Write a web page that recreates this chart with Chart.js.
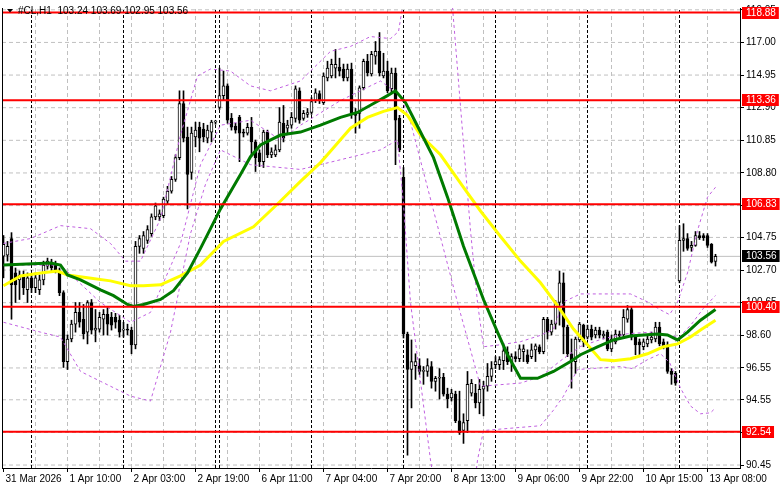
<!DOCTYPE html>
<html><head><meta charset="utf-8">
<script src="https://cdn.jsdelivr.net/npm/chart.js@4.4.1/dist/chart.umd.min.js"></script>
<style>html,body{margin:0;padding:0;background:#fff;overflow:hidden}#wrap{width:781px;height:489px;position:relative}</style>
</head><body><div id="wrap"><canvas id="c" width="781" height="489"></canvas></div>
<script>
// ---------- DATA ----------
const symbolTitle = '#CL,H1';
const lastQuote = [103.24, 103.69, 102.95, 103.56];   // O H L C of last bar
const currentPrice = 103.56;
const levels = [118.88, 113.36, 106.83, 100.40, 92.54];
const yTicks = [119.05, 117.00, 114.95, 112.90, 110.85, 108.80, 106.75, 104.75, 102.70, 100.65, 98.60, 96.55, 94.55, 92.50, 90.45];
const xGridBars = [8, 16, 24, 32, 40, 48, 56, 64, 72, 80, 88, 96, 104, 112, 120, 128, 136, 144, 152, 160, 168, 176];
const xLabelBars = [0, 16, 32, 48, 64, 80, 96, 112, 128, 144, 160, 176];
const xLabels = ['31 Mar 2026', '1 Apr 10:00', '2 Apr 03:00', '2 Apr 19:00', '6 Apr 11:00', '7 Apr 04:00', '7 Apr 20:00', '8 Apr 13:00', '9 Apr 06:00', '9 Apr 22:00', '10 Apr 15:00', '13 Apr 08:00'];
const daySeparatorBars = [7, 30, 53, 54, 77, 100, 123, 146, 169];

const opens = [103.57,103.63,104.68,102.52,102.08,102.39,101.46,102.21,101.59,101.46,102.08,102.95,103.20,103.01,102.64,101.28,96.95,98.37,99.30,100.04,
99.61,98.80,100.66,98.93,98.99,99.61,99.92,99.73,99.73,99.55,98.93,98.99,98.93,98.00,104.19,104.06,104.56,104.99,106.04,106.04,
106.11,107.03,107.65,108.40,109.76,113.16,111.06,108.83,111.06,111.68,111.55,110.99,111.37,111.99,112.91,113.66,114.27,112.23,111.74,112.29,
111.37,111.30,111.67,110.75,110.07,109.51,111.37,109.94,109.94,110.25,111.92,111.61,111.80,112.23,113.96,112.23,112.48,112.60,113.35,113.78,
113.22,114.77,114.89,115.39,115.45,115.33,114.77,115.33,112.60,112.54,114.15,115.82,115.02,116.13,116.44,114.89,115.20,114.09,115.08,112.23,
108.52,98.68,96.45,96.70,96.70,96.33,96.33,96.64,95.71,95.90,95.96,94.91,94.66,94.91,93.23,92.62,93.23,94.97,94.97,94.35,
95.21,95.40,96.02,96.76,96.76,97.01,97.57,96.95,97.26,97.13,97.57,97.38,97.26,97.69,97.88,97.57,99.61,98.80,99.30,100.66,
101.90,99.11,97.44,96.95,98.31,99.24,98.49,98.99,98.62,98.93,98.56,98.80,97.75,98.19,98.68,98.62,99.61,100.22,98.49,98.19,
97.88,98.06,98.31,98.37,99.11,98.19,98.00,96.33,96.21,102.02,104.56,104.68,104.12,104.25,104.87,104.87,104.87,104.31,103.24];
const highs = [104.87,104.50,105.05,102.83,102.64,102.64,102.52,102.46,102.52,102.39,103.26,103.45,103.38,103.26,102.83,101.40,98.62,99.55,100.66,100.66,
100.54,100.78,100.85,100.22,100.04,100.22,100.35,100.04,99.98,99.86,99.42,99.30,99.11,104.50,104.87,105.12,105.49,106.23,106.91,106.48,
107.28,107.96,108.58,109.94,113.96,113.96,111.68,111.68,111.99,111.99,111.92,111.80,112.11,112.11,115.39,115.20,114.40,112.54,111.92,112.42,
111.55,111.92,112.29,110.87,110.25,111.49,111.49,110.38,110.56,112.91,113.04,112.11,112.60,114.27,114.15,112.73,112.85,113.53,114.09,113.96,
115.08,115.82,115.95,116.56,116.01,115.64,115.64,115.70,112.85,114.27,115.95,116.25,116.44,117.06,117.62,116.32,115.82,115.39,115.39,112.42,
109.14,98.80,98.31,97.44,97.13,96.64,97.13,96.95,96.02,96.51,96.21,95.28,95.21,95.09,95.09,93.67,96.33,95.83,95.52,95.83,
95.71,96.83,96.95,97.26,97.26,97.88,97.88,97.44,97.57,98.00,98.00,97.69,98.06,98.06,98.00,99.73,99.73,99.55,100.78,102.64,
102.52,99.24,98.37,98.49,99.42,99.30,99.24,99.24,99.11,99.11,98.87,98.93,98.62,98.93,98.87,100.22,100.47,100.35,98.62,98.37,
98.37,98.56,98.80,99.42,99.42,98.37,98.19,96.51,96.33,105.49,105.61,104.99,104.50,105.12,105.12,104.99,104.99,104.37,103.69];
const lows = [102.21,103.26,99.61,100.66,100.85,101.16,100.66,101.28,101.28,101.16,101.77,102.76,102.64,102.52,101.09,96.58,96.45,98.19,98.80,99.11,
98.37,98.06,98.68,98.19,98.80,98.62,98.62,98.93,99.05,98.49,98.49,98.62,97.44,97.75,103.75,103.75,104.37,104.81,105.86,105.80,
105.98,106.85,107.53,108.27,109.63,110.75,106.54,108.40,110.44,110.13,110.75,110.69,110.75,111.86,112.79,113.35,111.92,111.49,111.30,109.51,
111.06,111.18,109.94,108.89,109.20,109.14,109.76,109.76,109.82,110.13,110.75,111.30,111.61,111.99,111.92,112.11,112.29,112.48,113.22,113.16,
113.10,114.58,114.77,114.77,114.89,114.58,114.58,112.23,111.30,111.61,114.02,114.89,114.89,115.63,114.89,114.77,113.84,113.78,109.32,110.13,
98.43,91.07,94.04,95.83,96.14,95.52,96.02,95.28,95.09,94.60,94.78,94.04,94.47,93.11,92.37,91.81,92.49,94.78,94.04,93.67,
93.54,95.09,95.71,96.51,96.45,96.45,96.76,96.33,96.95,96.95,96.95,96.83,97.13,96.95,97.44,97.44,98.37,98.62,98.99,99.24,
97.44,97.26,95.28,96.21,98.19,97.88,98.37,98.31,98.43,98.43,98.37,97.63,97.57,98.06,98.37,98.49,99.42,98.31,97.38,97.38,
97.69,97.88,98.12,98.19,97.94,97.75,96.21,95.52,95.46,101.90,103.88,103.94,103.88,104.19,104.62,104.56,104.12,103.14,102.95];
const closes = [104.31,104.19,101.77,101.77,102.39,101.59,102.21,101.59,102.21,102.08,103.01,103.26,102.83,102.70,101.28,96.95,98.37,99.30,100.04,99.42,
98.68,100.66,98.93,99.05,99.73,99.92,99.30,99.24,99.42,98.80,98.99,98.93,98.00,104.19,104.68,104.87,105.24,106.04,106.73,106.23,
107.16,107.65,108.40,109.76,113.16,110.99,108.71,111.30,111.49,110.99,111.06,111.49,111.99,112.05,113.66,114.27,112.11,111.67,111.49,111.30,
111.30,111.67,110.75,109.76,109.51,111.37,109.94,110.13,110.25,111.99,110.99,111.80,112.29,114.09,112.11,112.54,112.60,113.28,113.84,113.35,
114.89,115.39,115.63,115.63,115.20,114.77,115.33,112.54,112.42,114.15,115.82,115.08,116.25,116.44,115.08,115.20,113.96,115.08,112.11,110.25,
98.68,96.45,96.95,96.95,96.33,96.39,96.70,95.71,95.90,95.96,94.91,94.60,94.97,93.23,92.49,93.11,95.52,95.59,94.35,95.21,
95.40,96.02,96.51,96.95,97.07,97.63,96.95,97.26,97.13,97.75,97.75,96.95,97.69,97.94,97.57,99.61,98.80,99.30,100.66,101.90,
99.11,97.44,96.95,98.37,99.30,98.19,98.99,98.49,98.93,98.62,98.68,97.75,98.37,98.68,98.56,99.73,100.22,98.49,98.00,98.00,
98.19,98.37,98.49,99.11,98.06,97.88,96.33,96.14,95.59,104.56,104.68,104.06,104.25,104.87,104.74,104.74,104.25,103.20,103.56];

// green moving average (bar position, price)
const maFastBars = [0,11.75,14.25,16,19.25,24.25,27.5,31,32.5,35,39.25,42.5,46,49.25,54.25,59.25,61.75,64.25,69.25,74.25,79.25,84.25,88.5,92.5,96,98,100.5,104.25,107.5,111,115,120,123.5,126,129.25,133.5,137.5,141.75,144.25,148.5,152.5,156.75,163.5,166,168.5,171,174.25,178];
const maFastVals = [103.01,103.14,103.01,102.39,102.08,101.46,101.09,100.54,100.41,100.54,100.85,101.40,102.52,104.06,106.54,108.71,109.82,110.56,111.18,111.37,111.80,112.29,112.60,113.16,113.66,113.96,113.22,111.37,109.76,107.28,104.19,100.85,98.80,97.38,95.90,95.90,96.33,96.95,97.38,97.88,98.31,98.56,98.68,98.62,98.31,98.80,99.55,100.22];
// yellow moving average
const maSlowBars = [0,4.25,9.25,13.5,16,21,26.75,31.75,35,39.25,44.25,49.25,55,62.5,68.5,74.25,79.25,82.5,86.75,91,95,98.5,101,104.25,109.25,115,119.25,124.25,129.25,134.25,138.5,142.5,146,149.25,152.5,156.75,161,165,168.5,171.75,174.25,178];
const maSlowVals = [101.71,102.33,102.52,102.64,102.39,102.21,102.02,101.71,101.71,101.77,102.33,103.01,104.50,105.42,106.85,108.27,109.45,110.38,111.61,112.29,112.67,112.91,112.42,111.18,109.94,107.90,106.41,104.81,103.26,101.90,100.47,98.99,98.00,97.07,97.01,97.13,97.44,97.88,98.06,98.49,98.93,99.55];
// bands (purple dashed): upper, middle, lower
const bandUpBars = [0,6.75,14.25,21.75,26.75,30.5,34.25,39.25,44.25,48.5,51.75,56.75,61.75,66.75,74.25,81.75,86.75,91.75,96.75,98.75,99.75,100.5,111.75,112.25,116.75,118.5,120,124,129.25,134.25,137.5,140,144.25,156.75,161,164.25,166.5,168.5,171,173.5,176,178];
const bandUpVals = [104.37,104.68,105.49,105.30,104.37,103.26,103.26,105.92,111.18,114.89,115.33,115.20,114.27,113.96,114.58,116.44,116.75,117.37,117.24,117.68,119.23,121.0,121.0,119.23,105.18,100.66,97.88,98.00,98.20,98.60,99.00,100.70,101.20,101.20,100.70,100.20,99.90,100.66,102.52,105.18,107.28,107.90];
const bandMidBars = [0,14.25,24.25,31.75,36.75,44.25,49.25,54.25,61.75,69.25,74.25,84.25,94.25,99.25,101.75,113.5,119.25,129.25,134.25,139.25,144.25,150,156,162,166,169,172,175,178];
const bandMidVals = [103.01,103.01,100.66,99.42,100.04,104.37,109.32,111.80,112.11,110.87,111.80,113.35,114.58,113.66,111.99,100.66,95.40,95.60,96.00,97.00,97.90,98.40,98.70,98.80,98.60,98.50,99.30,100.30,101.10];
const bandLoBars = [0,9.25,14.25,19.25,24.25,31.75,36.75,41.75,46.75,50.5,54.25,61.75,74.25,84.25,94.25,98.5,100,101.75,106.75,109.25,116.75,118.5,120,134.25,137.5,140,143.5,154.25,157.25,161,164.25,166.5,169.25,171.75,174.25,176.75,178];
const bandLoVals = [99.42,98.80,98.49,96.33,95.71,94.78,94.47,98.80,104.99,108.09,110.25,109.32,109.02,109.63,110.25,110.87,106.85,100.66,90.76,87.0,87.0,90.76,92.62,92.92,93.90,94.78,96.45,96.64,96.51,97.07,97.44,96.90,95.28,94.16,93.67,93.73,94.04];

// ---------- CHART ----------
const FONT = "'Liberation Sans', Arial, sans-serif";
const FSIZE = 10;
const X_MIN = -0.375, X_MAX = 184.125;
const Y_MIN = 90.264, Y_MAX = 119.163;

const pairs = (xs, ys) => xs.map((x, i) => ({x, y: ys[i]}));
const wickData = opens.map((o, i) => ({x: i, y: [lows[i], highs[i]]}));
const bodyData = opens.map((o, i) => ({x: i, y: [o, closes[i]]}));
const bodyFill = opens.map((o, i) => closes[i] >= o ? '#ffffff' : '#000000');
const vLines = bars => { const d = []; bars.forEach(b => d.push({x: b, y: Y_MIN}, {x: b, y: Y_MAX}, {x: b, y: null})); return d; };
const hLines = vals => { const d = []; vals.forEach(v => d.push({x: X_MIN, y: v}, {x: X_MAX, y: v}, {x: X_MAX, y: null})); return d; };

const lineBase = {type: 'line', pointRadius: 0, fill: false, tension: 0, clip: 0, spanGaps: false};
const PURPLE = '#c060e0';
const GRID = '#c0c0c0';

const deco = {
  id: 'deco',
  afterDraw(chart) {
    const {ctx, chartArea: a, scales: {y}} = chart;
    ctx.save();
    ctx.strokeStyle = '#000'; ctx.lineWidth = 1;
    ctx.beginPath(); ctx.moveTo(a.left + 0.5, a.top); ctx.lineTo(a.left + 0.5, a.bottom); ctx.stroke();
    ctx.fillStyle = '#000';
    ctx.beginPath(); ctx.moveTo(7, 9); ctx.lineTo(13, 9); ctx.lineTo(10, 12.5); ctx.closePath(); ctx.fill();
    ctx.font = FSIZE + 'px ' + FONT; ctx.textBaseline = 'middle'; ctx.textAlign = 'left';
    ctx.fillText(symbolTitle + '  ' + lastQuote.map(v => v.toFixed(2)).join(' '), 18, 11);
    const box = (v, bg) => {
      const py = Math.round(y.getPixelForValue(v));
      const t = v.toFixed(2);
      const w = ctx.measureText(t).width;
      ctx.fillStyle = bg; ctx.fillRect(a.right + 2, py - 6, w + 7, 12);
      ctx.fillStyle = '#fff'; ctx.fillText(t, a.right + 6, py + 0.5);
    };
    levels.forEach(v => box(v, '#ff0000'));
    box(currentPrice, '#000000');
    ctx.restore();
  }
};

new Chart(document.getElementById('c'), {
  type: 'bar',
  data: {
    datasets: [
      Object.assign({}, lineBase, {label: 'levels', data: hLines(levels), borderColor: '#ff0000', borderWidth: 2, order: 0}),
      Object.assign({}, lineBase, {label: 'fast', data: pairs(maFastBars, maFastVals), borderColor: '#007a00', borderWidth: 3, order: 1}),
      Object.assign({}, lineBase, {label: 'slow', data: pairs(maSlowBars, maSlowVals), borderColor: '#ffff00', borderWidth: 3, order: 2}),
      Object.assign({}, lineBase, {label: 'bu', data: pairs(bandUpBars, bandUpVals), borderColor: PURPLE, borderWidth: 1, borderDash: [3, 3], order: 3}),
      Object.assign({}, lineBase, {label: 'bm', data: pairs(bandMidBars, bandMidVals), borderColor: PURPLE, borderWidth: 1, borderDash: [3, 3], order: 3}),
      Object.assign({}, lineBase, {label: 'bl', data: pairs(bandLoBars, bandLoVals), borderColor: PURPLE, borderWidth: 1, borderDash: [3, 3], order: 3}),
      {type: 'bar', label: 'body', data: bodyData, backgroundColor: bodyFill, borderColor: '#000', borderWidth: 1, borderSkipped: false, barThickness: 3, minBarLength: 1, grouped: false, order: 4, clip: 0},
      {type: 'bar', label: 'wick', data: wickData, backgroundColor: '#000', borderWidth: 0, barThickness: 1, grouped: false, order: 5, clip: 0},
      Object.assign({}, lineBase, {label: 'sep', data: vLines(daySeparatorBars), borderColor: '#000', borderWidth: 1, borderDash: [3, 2], order: 6}),
      Object.assign({}, lineBase, {label: 'price', data: hLines([currentPrice]), borderColor: GRID, borderWidth: 1, order: 7}),
      Object.assign({}, lineBase, {label: 'gridx', data: vLines(xGridBars), borderColor: GRID, borderWidth: 1, borderDash: [4, 3], order: 8}),
      Object.assign({}, lineBase, {label: 'gridy', data: hLines(yTicks), borderColor: GRID, borderWidth: 1, borderDash: [4, 3], order: 8})
    ]
  },
  options: {
    responsive: false, animation: false, devicePixelRatio: 1,
    layout: {padding: {left: 2, top: 1, right: 0, bottom: 0}},
    plugins: {legend: {display: false}, tooltip: {enabled: false}},
    scales: {
      x: {
        type: 'linear', min: X_MIN, max: X_MAX, offset: false,
        afterBuildTicks: s => { s.ticks = xLabelBars.map(v => ({value: v})); },
        afterFit: s => { s.height = 21; },
        ticks: {
          autoSkip: false, maxRotation: 0, align: 'start', labelOffset: 2, padding: 1, color: '#000',
          font: {family: FONT, size: FSIZE},
          callback: v => { const k = xLabelBars.indexOf(v); return k >= 0 ? xLabels[k] : ''; }
        },
        grid: {drawOnChartArea: false, offset: false, tickColor: '#000', tickLength: 4, lineWidth: 1},
        border: {display: true, color: '#000', width: 1}
      },
      y: {
        type: 'linear', position: 'right', min: Y_MIN, max: Y_MAX,
        afterBuildTicks: s => { s.ticks = yTicks.map(v => ({value: v})); },
        afterFit: s => { s.width = 41; },
        ticks: {color: '#000', padding: 2, font: {family: FONT, size: FSIZE}, callback: v => Number(v).toFixed(2)},
        grid: {drawOnChartArea: false, tickColor: '#000', tickLength: 4, lineWidth: 1},
        border: {display: true, color: '#000', width: 1}
      }
    }
  },
  plugins: [deco]
});
</script>
</body></html>
